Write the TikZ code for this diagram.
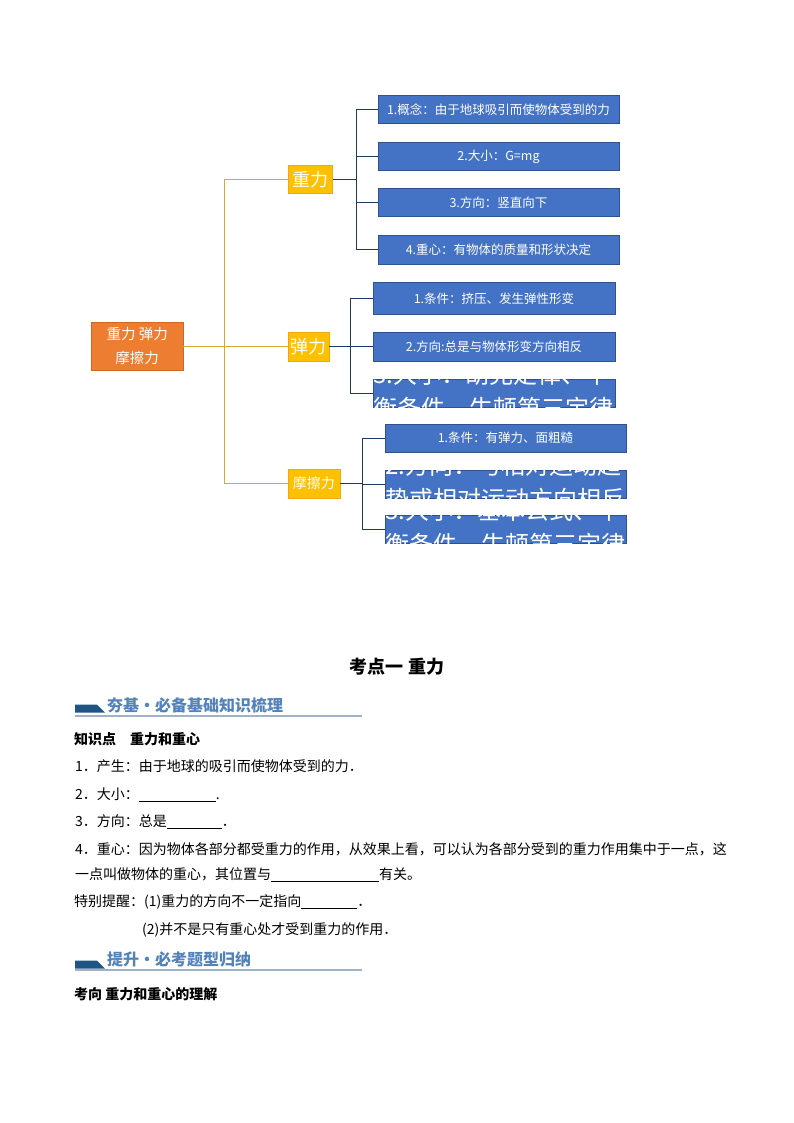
\documentclass[tikz,border=0pt]{standalone}
\usepackage{fontspec}
\setmainfont{Noto Sans CJK SC}
\usetikzlibrary{positioning}

\definecolor{leafblue}{RGB}{68,114,196}
\definecolor{leafline}{RGB}{47,82,143}
\definecolor{catyellow}{RGB}{255,192,0}
\definecolor{catline}{RGB}{235,170,20}
\definecolor{rootorange}{RGB}{237,125,49}
\definecolor{rootline}{RGB}{205,105,40}
\definecolor{trunkgold}{RGB}{214,168,52}
\definecolor{brnavy}{RGB}{31,56,100}
\definecolor{banblue}{RGB}{31,84,135}
\definecolor{bantext}{RGB}{84,131,186}
\definecolor{banrule}{RGB}{160,178,200}

\newcommand\pxfont[1]{\fontsize{#1}{#1}\selectfont}
\newcommand\blank[1]{\underline{\hspace{#1pt}}}

\tikzset{
  leaf/.style={draw=leafline, fill=leafblue, text=white, inner sep=0pt,
    minimum width=241, minimum height=28.4, font=\pxfont{12.5}},
  cat/.style={draw=catline, fill=catyellow, text=white, inner sep=0pt,
    minimum height=28.4, font=\pxfont{18}},
  bigtxt/.style={text=white, inner sep=0pt, anchor=base west, font=\pxfont{24}},
  bigtop/.style={bigtxt, text height=5pt, text depth=2pt},
  bigbot/.style={bigtxt, text height=21pt, text depth=0pt},
  brline/.style={draw=brnavy, line width=1pt},
  trunk/.style={draw=trunkgold, line width=1pt},
  body/.style={anchor=west, inner sep=0pt, font=\pxfont{14}},
  bhead/.style={anchor=west, inner sep=0pt, font=\pxfont{14}\bfseries},
  bantitle/.style={anchor=west, inner sep=0pt, text=bantext, font=\pxfont{16}\bfseries}
}

\begin{document}
\begin{tikzpicture}[x=1pt, y=-1pt]
  \useasboundingbox (0,0) rectangle (794,1123);

  % === 思维导图：根节点与三个分类 ===
  \node[draw=rootline, fill=rootorange, text=white, inner sep=0pt,
    minimum width=91.6, minimum height=48, align=center,
    font={\fontsize{14.5}{24}\selectfont}] (root) at (137.2,346.5) {重力 弹力\\摩擦力};
  \node[cat, minimum width=44.5] (zhongli) at (310.2,179.5) {重力};
  \node[cat, minimum width=41] (tanli) at (308.5,346.5) {弹力};
  \node[cat, minimum width=52, font=\pxfont{14}] (mocali) at (313.8,483.5) {摩擦力};

  % 主干（金色）
  \draw[trunk] (root.east) -- ++(41.5,0) coordinate (rtbr);
  \foreach \c in {zhongli,tanli,mocali}
    \draw[trunk] (rtbr) |- (\c.west);

  % === 重力分支 ===
  \node[leaf] (zl1) at (498.5,109.2) {1.概念：由于地球吸引而使物体受到的力};
  \node[leaf] (zl2) at (498.5,156.5) {2.大小：G=mg};
  \node[leaf] (zl3) at (498.5,202.5) {3.方向：竖直向下};
  \node[leaf] (zl4) at (498.5,249.5) {4.重心：有物体的质量和形状决定};
  \draw[brline] (zhongli.east) -- ++(23.5,0) coordinate (zlbr);
  \foreach \k in {1,...,4}
    \draw[brline] (zlbr) |- (zl\k.west);

  % === 弹力分支 ===
  \node[leaf, minimum width=242, minimum height=32] (tl1) at (494,298.3) {1.条件：挤压、发生弹性形变};
  \node[leaf, minimum width=242] (tl2) at (494,346.5) {2.方向:总是与物体形变方向相反};
  \node[leaf, minimum width=242, minimum height=28] (tl3) at (494,393) {};
  \begin{scope}
    \clip (tl3.north west) rectangle (tl3.south east);
    \node[bigtop] (tl3a) at ([shift={(0.5,5)}]tl3.north west) {3.大小：胡克定律、平};
    \node[bigbot] (tl3b) at ([shift={(0,39)}]tl3.north west) {衡条件、牛顿第三定律};
  \end{scope}
  \draw[brline] (tanli.east) -- ++(21,0) coordinate (tlbr);
  \foreach \k in {1,...,3}
    \draw[brline] (tlbr) |- (tl\k.west);

  % === 摩擦力分支 ===
  \node[leaf, minimum height=27.7] (ml1) at (505.5,438) {1.条件：有弹力、面粗糙};
  \node[leaf, minimum height=27.7] (ml2) at (505.5,484) {};
  \node[leaf, minimum height=27.7] (ml3) at (505.5,529) {};
  \begin{scope}
    \clip (ml2.north west) rectangle (ml2.south east);
    \node[bigtop] (ml2a) at ([shift={(0.5,5)}]ml2.north west) {2.方向：与相对运动趋};
    \node[bigbot] (ml2b) at ([shift={(0,39)}]ml2.north west) {势或相对运动方向相反};
  \end{scope}
  \begin{scope}
    \clip (ml3.north west) rectangle (ml3.south east);
    \node[bigtop] (ml3a) at ([shift={(0.5,5)}]ml3.north west) {3.大小：基本公式、平};
    \node[bigbot] (ml3b) at ([shift={(0,39)}]ml3.north west) {衡条件、牛顿第三定律};
  \end{scope}
  \draw[brline] (mocali.east) -- ++(22,0) coordinate (mlbr);
  \foreach \k in {1,...,3}
    \draw[brline] (mlbr) |- (ml\k.west);

  % === 考点一 正文 ===
  \node[inner sep=0pt, font=\pxfont{18}\bfseries] (title) at (397,667) {考点一 重力};

  % 栏目条一
  \fill[banblue] (75,704.5) -- (97,704.5) -- (105,712.5) -- (75,712.5) -- cycle;
  \draw[banrule, line width=1.2pt] (75,716) -- (362,716);
  \node[bantitle] (ban1) at (107,705) {夯基·必备基础知识梳理};

  \node[bhead] (kp) at (74,739) {知识点　重力和重心};
  \node[body] (p1) at (75,766.5) {1．产生：由于地球的吸引而使物体受到的力．};
  \node[body] (p2) at (75,795) {2．大小：\blank{77}.};
  \node[body] (p3) at (75,822) {3．方向：总是\blank{55}．};
  \node[body] (p4) at (75,849) {4．重心：因为物体各部分都受重力的作用，从效果上看，可以认为各部分受到的重力作用集中于一点，这};
  \node[body] (p4b) at (75,875) {一点叫做物体的重心，其位置与\blank{108}有关。};
  \node[body] (tip1) at (74,902) {特别提醒：(1)重力的方向不一定指向\blank{56}．};
  \node[body] (tip2) at (142,930) {(2)并不是只有重心处才受到重力的作用．};

  % 栏目条二
  \fill[banblue] (75,960.5) -- (97,960.5) -- (105,968.5) -- (75,968.5) -- cycle;
  \draw[banrule, line width=1.2pt] (75,970) -- (362,970);
  \node[bantitle] (ban2) at (107,959) {提升·必考题型归纳};

  \node[bhead] (kx) at (74,994) {考向 重力和重心的理解};
\end{tikzpicture}
\end{document}
